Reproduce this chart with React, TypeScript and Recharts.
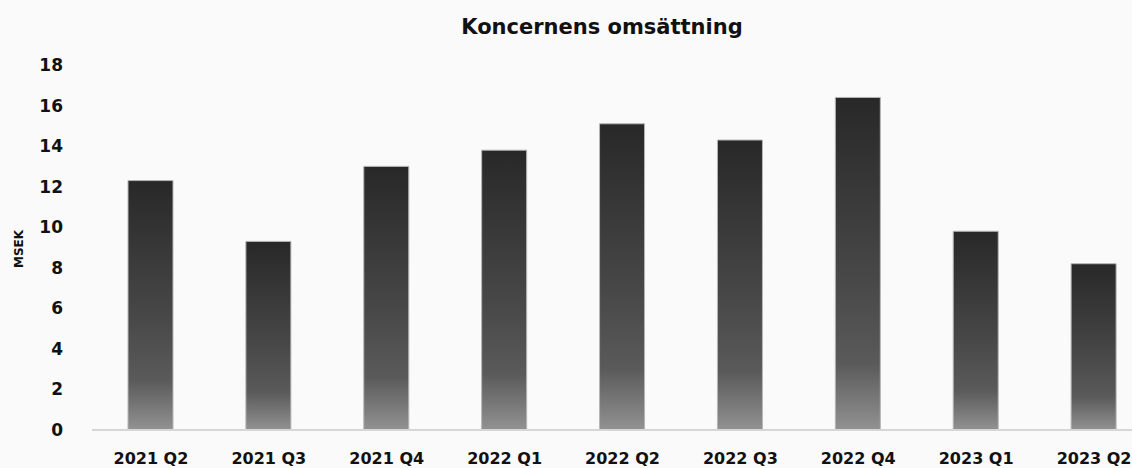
import { Bar, BarChart, XAxis, YAxis } from "recharts";

// Koncernens omsättning per kvartal (MSEK)
const quarters = [
  "2021 Q2",
  "2021 Q3",
  "2021 Q4",
  "2022 Q1",
  "2022 Q2",
  "2022 Q3",
  "2022 Q4",
  "2023 Q1",
  "2023 Q2",
];
const revenue = [12.3, 9.3, 13.0, 13.8, 15.1, 14.3, 16.4, 9.8, 8.2];
const yTicks = [0, 2, 4, 6, 8, 10, 12, 14, 16, 18];

const data = quarters.map((q, i) => ({ q, value: revenue[i] }));

const FONT = "'DejaVu Sans', sans-serif";

function XTick({ x, y, payload }: any) {
  return (
    <text
      x={x}
      y={y + 26}
      textAnchor="middle"
      fontFamily={FONT}
      fontWeight={700}
      fontSize={16}
      fill="#111"
    >
      {payload.value}
    </text>
  );
}

function YTick({ y, payload }: any) {
  return (
    <text
      x={63}
      y={y + 6}
      textAnchor="end"
      fontFamily={FONT}
      fontWeight={700}
      fontSize={17}
      fill="#111"
    >
      {payload.value}
    </text>
  );
}

export default function App() {
  // the plot runs a little past the right edge in the original, so the chart
  // is wider than the frame and clipped
  return (
    <div
      style={{
        position: "absolute",
        left: 0,
        top: 0,
        width: 1132,
        height: 468,
        background: "#fafafa",
        overflow: "hidden",
      }}
    >
      <BarChart
        width={1153}
        height={468}
        data={data}
        margin={{ top: 65, right: 0, bottom: 0, left: 0 }}
        style={{ position: "absolute", left: 0, top: 0 }}
      >
        <defs>
          <linearGradient id="barGrad" x1="0" y1="0" x2="0" y2="1">
            <stop offset="0%" stopColor="#282828" />
            <stop offset="55%" stopColor="#484848" />
            <stop offset="80%" stopColor="#5a5a5a" />
            <stop offset="100%" stopColor="#929292" />
          </linearGradient>
        </defs>
        <XAxis
          dataKey="q"
          height={38}
          tick={<XTick />}
          tickLine={false}
          axisLine={{ stroke: "#d6d6d6", strokeWidth: 2 }}
          interval={0}
        />
        <YAxis
          width={92}
          domain={[0, 18]}
          ticks={yTicks}
          tick={<YTick />}
          tickLine={false}
          axisLine={false}
        />
        <Bar
          dataKey="value"
          barSize={45}
          fill="url(#barGrad)"
          stroke="#b5b5b5"
          strokeWidth={1}
          isAnimationActive={false}
        />
      </BarChart>
      <svg
        width={1132}
        height={468}
        style={{ position: "absolute", left: 0, top: 0, pointerEvents: "none" }}
      >
        <text
          x={602}
          y={34}
          textAnchor="middle"
          fontFamily={FONT}
          fontWeight={700}
          fontSize={21}
          fill="#111"
        >
          Koncernens omsättning
        </text>
        <text
          x={0}
          y={0}
          transform="translate(23 249) rotate(-90)"
          textAnchor="middle"
          fontFamily={FONT}
          fontWeight={700}
          fontSize={12}
          fill="#111"
        >
          MSEK
        </text>
      </svg>
    </div>
  );
}
